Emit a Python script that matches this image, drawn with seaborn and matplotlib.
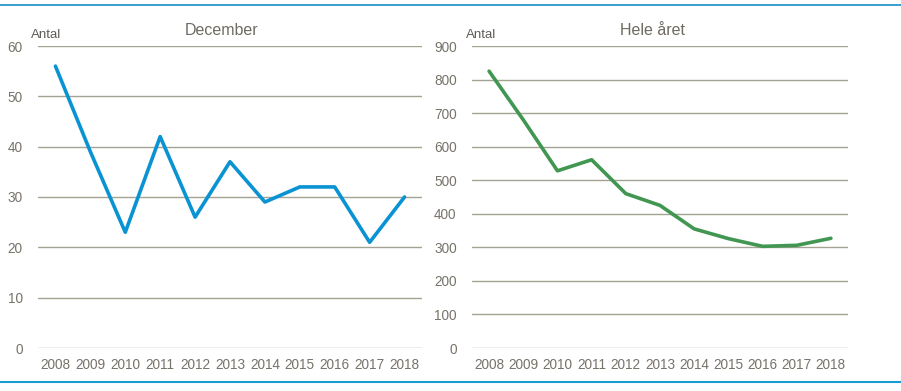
import numpy as np
import pandas as pd
import matplotlib
matplotlib.use('Agg')
import matplotlib.pyplot as plt
import seaborn as sns
from matplotlib.lines import Line2D

years = [str(y) for y in range(2008, 2019)]
december = [56, 39, 23, 42, 26, 37, 29, 32, 32, 21, 30]
hele_aaret = [825, 680, 528, 561, 460, 425, 355, 326, 303, 306, 327]

sns.set_theme(style='white')
plt.rcParams['font.family'] = ['Liberation Sans Narrow', 'Liberation Sans', 'DejaVu Sans']

grid_col = '#a3a293'
text_col = '#77736a'

fig = plt.figure(figsize=(9.01, 3.91), dpi=100)
ax1 = fig.add_axes([38 / 901, 1 - 348 / 391, 384 / 901, 302 / 391])
ax2 = fig.add_axes([472 / 901, 1 - 348 / 391, 376 / 901, 302 / 391])

df1 = pd.DataFrame({'year': years, 'value': december})
df2 = pd.DataFrame({'year': years, 'value': hele_aaret})

sns.lineplot(data=df1, x='year', y='value', ax=ax1, color='#0a93d2', lw=2.6, sort=False)
sns.lineplot(data=df2, x='year', y='value', ax=ax2, color='#419752', lw=2.6, sort=False)


def style(ax, ymax, step, title, title_x, antal_x):
    ax.set_ylim(0, ymax)
    ax.set_xlim(-0.5, 10.5)
    ax.set_yticks(np.arange(0, ymax + 1, step))
    ax.set_xlabel('')
    ax.set_ylabel('')
    for s in ax.spines.values():
        s.set_visible(False)
    ax.grid(axis='y', color=grid_col, lw=1)
    ax.set_axisbelow(True)
    ax.tick_params(axis='both', length=0, labelsize=9.8, labelcolor=text_col)
    ax.tick_params(axis='y', pad=11)
    ax.tick_params(axis='x', pad=7)
    ax.set_title(title, fontsize=11.5, color='#6f6b63', pad=0, x=title_x, y=1.035)
    ax.text(antal_x, 1.017, 'Antal', transform=ax.transAxes, ha='left', va='bottom',
            fontsize=9.5, color='#5f5b55')


style(ax1, 60, 10, 'December', 0.479, -0.018)
style(ax2, 900, 100, 'Hele året', 0.481, -0.016)

# blue rules at top and bottom
fig.add_artist(Line2D([0, 1], [1 - 5 / 391, 1 - 5 / 391], color='#1a8cc8', lw=1.2))
fig.add_artist(Line2D([0, 1], [1 - 382 / 391, 1 - 382 / 391], color='#1a9ad6', lw=1.5))

fig.savefig('out.png', dpi=100)
